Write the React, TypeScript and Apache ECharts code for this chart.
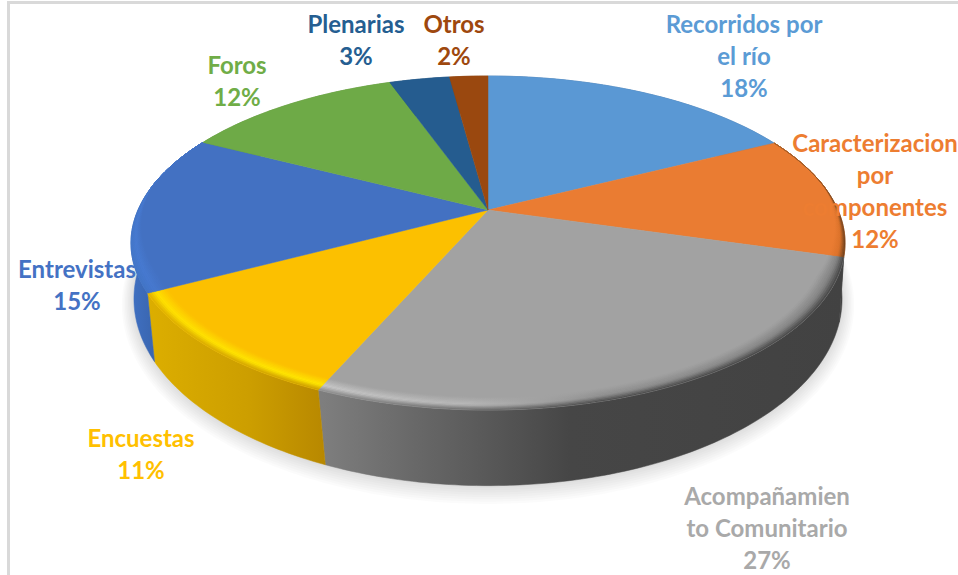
import React, { useEffect, useRef } from "react";
import * as echarts from "echarts";

// Data
const names = ["Recorridos por el río", "Caracterizacion por componentes", "Acompañamiento Comunitario", "Encuestas", "Entrevistas", "Foros", "Plenarias", "Otros"];
const labelLines = [["Recorridos por", "el río"], ["Caracterizacion", "por", "componentes"], ["Acompañamien", "to Comunitario"], ["Encuestas"], ["Entrevistas"], ["Foros"], ["Plenarias"], ["Otros"]];
const shares = [17.5, 12.0, 27.0, 10.7, 15.4, 12.0, 3.3, 2.1];

// Styles
const faceColors = ["#5a98d4", "#ea7c32", "#a2a2a2", "#fcc000", "#4371c2", "#6eaa47", "#255c8f", "#9a480f"];
const textColors = ["#5b9bd5", "#ed7d31", "#a9a9a9", "#ffc000", "#4472c4", "#70ad47", "#255e91", "#9e480e"];
const labelCentres = [[744, 55], [875, 190], [767, 527], [141, 453], [77, 284], [237, 80], [356, 39], [454, 39]];
const wallStops: [number, string][][] = [
  [[0, "#3f6fa0"], [1, "#3f6fa0"]],
  [[780, "#444444"], [845, "#444444"]],
  [[322, "#7e7e7e"], [420, "#676767"], [480, "#5a5a5a"], [570, "#464646"], [845, "#424242"]],
  [[148, "#dcae00"], [250, "#cc9e00"], [325, "#b88800"]],
  [[134, "#3f6fc0"], [153, "#3a66b0"]],
  [[0, "#5c8f3a"], [1, "#5c8f3a"]],
  [[0, "#1e4c76"], [1, "#1e4c76"]],
  [[0, "#7c3a0c"], [1, "#7c3a0c"]],
];
const bevelKeys: ({ x: number; mid: string; edge: string }[] | null)[] = [
  null,
  [{ x: 780, mid: "#e87a30", edge: "#8a5426" }, { x: 845, mid: "#d87028", edge: "#6a3f1c" }],
  [{ x: 322, mid: "#c8c8c8", edge: "#8a8a8a" }, { x: 470, mid: "#b8b8b8", edge: "#6a6a6a" }, { x: 600, mid: "#8e8e8e", edge: "#484848" }, { x: 845, mid: "#808080", edge: "#444444" }],
  [{ x: 148, mid: "#ffe100", edge: "#dfb000" }, { x: 325, mid: "#ffe800", edge: "#c89a00" }],
  [{ x: 131, mid: "#477bd2", edge: "#4276c8" }, { x: 175, mid: "#4676cc", edge: "#3f6fc0" }],
  null,
  null,
  null,
];

const TOP = { cx: 488, cy: 210, A: 350, B: 160.5, k: 0.1976 };
const BOTTOM = { cx: 488, cy: 269, A: 349.5, B: 182, k: 0.16 };
const BEVEL_WIDTH = 0.052;
const BEVEL_STEPS = 10;
const ARC_STEP = Math.PI / 180;
const HALO_LAYERS = 8;

type Model = typeof TOP;
const project = (m: Model, theta: number, r = 1): number[] => {
  const u = r * Math.sin(theta);
  const v = r * Math.cos(theta);
  const d = 1 + m.k * v;
  return [m.cx + (m.A * u) / d, m.cy - (m.B * v) / d];
};
const arcAngles = (a0: number, a1: number): number[] => {
  const out: number[] = [];
  const n = Math.max(2, Math.ceil((a1 - a0) / ARC_STEP));
  for (let i = 0; i <= n; i++) out.push(a0 + ((a1 - a0) * i) / n);
  return out;
};
const taper = (theta: number) => Math.min(1, Math.max(0, (0.15 - Math.cos(theta)) / 0.55));
const bevelR = (theta: number, w: number) => 1 - w * taper(theta);

const hex = (c: string) => [1, 3, 5].map((i) => parseInt(c.slice(i, i + 2), 16));
const mix = (a: string, b: string, t: number) => {
  const x = hex(a);
  const y = hex(b);
  return `rgb(${x.map((v, i) => Math.round(v + (y[i] - v) * t)).join(",")})`;
};
const hGrad = (stops: [number, string][]) => {
  const x0 = stops[0][0];
  const x1 = stops[stops.length - 1][0];
  return {
    type: "linear",
    x: x0,
    y: 0,
    x2: x1,
    y2: 0,
    global: true,
    colorStops: stops.map(([x, color]) => ({ offset: (x - x0) / (x1 - x0), color })),
  };
};

const total = shares.reduce((a, b) => a + b, 0);

const renderSlice = (params: any, api: any) => {
  const i = params.dataIndex;
  const before = shares.slice(0, i).reduce((a, b) => a + b, 0);
  const a0 = (before / total) * Math.PI * 2;
  const a1 = ((before + api.value(0)) / total) * Math.PI * 2;
  const angles = arcAngles(a0, a1);
  const children: any[] = [];

  if (i === 0) {
    // soft cast shadow: nested translucent ellipses, widest first
    for (let h = HALO_LAYERS; h >= 1; h--) {
      const m = { ...BOTTOM, A: BOTTOM.A + h * 1.5, B: BOTTOM.B + h * 1.5, cy: BOTTOM.cy + h * 0.5 };
      children.push({
        type: "polygon",
        silent: true,
        z2: 0,
        shape: { points: arcAngles(0, Math.PI * 2).map((t) => project(m, t)) },
        style: { fill: "rgba(0,0,0,0.017)" },
      });
    }
  }
  // side wall
  const rim = angles.map((t) => project(TOP, t));
  const low = angles.map((t) => project(BOTTOM, t)).reverse();
  const wall = wallStops[i];
  children.push({
    type: "polygon",
    silent: true,
    z2: 1,
    shape: { points: [...rim, ...low] },
    style: { fill: hGrad(wall), stroke: hGrad(wall), lineWidth: 0.5 },
  });
  // top face
  children.push({
    type: "polygon",
    silent: true,
    z2: 2,
    shape: { points: [[TOP.cx, TOP.cy], ...rim] },
    style: { fill: faceColors[i], stroke: faceColors[i], lineWidth: 0.5 },
  });
  // rounded edge
  const keys = bevelKeys[i];
  if (keys) {
    for (let s = 0; s < BEVEL_STEPS; s++) {
      const w0 = BEVEL_WIDTH * (1 - s / BEVEL_STEPS);
      const w1 = BEVEL_WIDTH * (1 - (s + 1) / BEVEL_STEPS);
      const t = (s + 0.5) / BEVEL_STEPS;
      const stops = keys.map((k): [number, string] => [
        k.x,
        t < 0.6 ? mix(faceColors[i], k.mid, t / 0.6) : mix(k.mid, k.edge, (t - 0.6) / 0.4),
      ]);
      const g = hGrad(stops);
      children.push({
        type: "polygon",
        silent: true,
        z2: 3,
        shape: {
          points: [
            ...angles.map((a) => project(TOP, a, bevelR(a, w0))),
            ...angles.map((a) => project(TOP, a, bevelR(a, w1))).reverse(),
          ],
        },
        style: { fill: g, stroke: g, lineWidth: 0.4 },
      });
    }
  }
  // label
  children.push({
    type: "text",
    silent: true,
    z2: 10,
    x: labelCentres[i][0],
    y: labelCentres[i][1],
    style: {
      text: [...labelLines[i], `${Math.round(api.value(0))}%`].join("\n"),
      fill: textColors[i],
      font: 'bold 24px Lato, "Noto Sans", sans-serif',
      lineHeight: 32,
      align: "center",
      verticalAlign: "middle",
    },
  });
  return { type: "group", children };
};

export default function App() {
  const ref = useRef<HTMLDivElement>(null);
  useEffect(() => {
    const chart = echarts.init(ref.current!, undefined, { renderer: "svg" });
    chart.setOption({
      animation: false,
      backgroundColor: "#ffffff",
      graphic: [
        { type: "rect", silent: true, shape: { x: 7, y: 1, width: 3, height: 574 }, style: { fill: "#d9d9d9" } },
        { type: "rect", silent: true, shape: { x: 7, y: 1, width: 951, height: 3 }, style: { fill: "#d9d9d9" } },
      ],
      series: [
        {
          type: "custom",
          coordinateSystem: "none",
          renderItem: renderSlice,
          clip: false,
          data: shares.map((v, i) => ({ name: names[i], value: [v] })),
        },
      ],
    });
    return () => chart.dispose();
  }, []);
  return <div ref={ref} style={{ position: "absolute", left: 0, top: 0, width: 958, height: 575, overflow: "hidden" }} />;
}
